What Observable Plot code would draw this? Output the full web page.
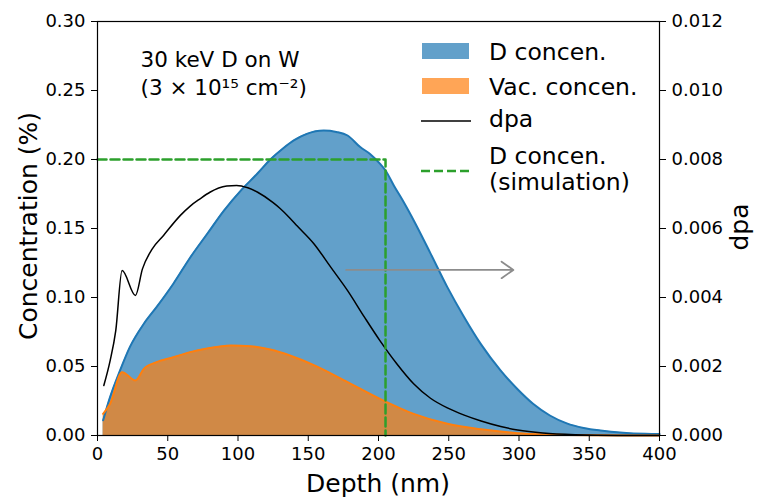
<!DOCTYPE html>
<html><head><meta charset="utf-8">
<script src="https://cdn.jsdelivr.net/npm/d3@7"></script>
<script src="https://cdn.jsdelivr.net/npm/@observablehq/plot@0.6"></script>
<style>body{margin:0;background:#fff} #chart{width:757px;height:498px}</style>
</head><body><div id="chart"></div>
<script>
// D concentration (%) vs depth (nm)
const dDepth = [4, 9, 16, 23, 33, 42, 54, 66, 78, 90, 102, 114, 123, 132, 140, 149, 161, 170, 178, 187, 194, 201, 205, 211, 218, 225, 237, 249, 261, 273, 287, 299, 310, 322, 334, 346, 358, 374, 390, 400];
const dConc  = [0.011, 0.028, 0.047, 0.064, 0.081, 0.093, 0.110, 0.129, 0.146, 0.163, 0.1775, 0.190, 0.200, 0.208, 0.214, 0.2186, 0.221, 0.220, 0.2174, 0.209, 0.204, 0.197, 0.192, 0.181, 0.169, 0.156, 0.132, 0.1075, 0.0857, 0.066, 0.047, 0.0335, 0.023, 0.0145, 0.0088, 0.0055, 0.0036, 0.002, 0.0012, 0.001];
// Vacancy concentration (%)
const vDepth = [4, 9, 17.5, 27, 33, 42, 54, 66, 78, 95, 109, 123, 137, 154, 178, 201, 225, 249, 273, 299, 322, 350, 400];
const vConc  = [0.0157, 0.023, 0.0459, 0.0399, 0.0483, 0.0531, 0.0567, 0.0604, 0.063, 0.0652, 0.0647, 0.0623, 0.058, 0.051, 0.0387, 0.0266, 0.0157, 0.0085, 0.0045, 0.0017, 0.0007, 0.0002, 0];
// dpa (right axis)
const dpaDepth = [4.5, 9, 13, 17.5, 27, 32, 39, 47, 59, 66, 73, 80, 92, 99, 107, 114, 125, 130, 137, 142, 154, 166, 178, 190, 201, 213, 225, 237, 249, 261, 273, 287, 299, 317, 340, 370, 400];
const dpaVal   = [0.00145, 0.00217, 0.00304, 0.00478, 0.00406, 0.00483, 0.00541, 0.0058, 0.00638, 0.00665, 0.00686, 0.00705, 0.00723, 0.00725, 0.00718, 0.00705, 0.00675, 0.00658, 0.0063, 0.00608, 0.00556, 0.00488, 0.0042, 0.00343, 0.00275, 0.00208, 0.0015, 0.00108, 0.0008, 0.00059, 0.00042, 0.00026, 0.00016, 0.00007, 0.00002, 0, 0];
// simulated D concentration (dashed box)
const simDepth = [0, 205, 205];
const simConc  = [0.20, 0.20, 0];
// arrow pointing to right axis
const arrowX = [177, 296];
const arrowY = 0.12;
// ticks
const xTicks = [0, 50, 100, 150, 200, 250, 300, 350, 400];
const yTicks = [0, 0.05, 0.10, 0.15, 0.20, 0.25, 0.30];
const dpaTicks = [0, 0.002, 0.004, 0.006, 0.008, 0.010, 0.012];
const annotation = "30 keV D on W\n(3 × 10¹⁵ cm⁻²)";
const legendLabels = ["D concen.", "Vac. concen.", "dpa", "D concen.\n(simulation)"];

const SCALE = 0.30 / 0.012;
const dRows = dDepth.map((x, i) => ({x, y: dConc[i]}));
const vRows = vDepth.map((x, i) => ({x, y: vConc[i]}));
const pRows = dpaDepth.map((x, i) => ({x, dpa: dpaVal[i]}));
const sRows = simDepth.map((x, i) => ({x, y: simConc[i]}));
const aRows = [{x1: arrowX[0], x2: arrowX[1], y: arrowY}];

const C_BLUE = "#1f77b4", C_ORANGE = "#ff7f0e", C_GREEN = "#2ca02c";
const W = 757, H = 498, mL = 97, mR = 98, mT = 21, mB = 63;

const plot = Plot.plot({
  width: W, height: H, marginLeft: mL, marginRight: mR, marginTop: mT, marginBottom: mB,
  style: {fontFamily: "DejaVu Sans", fontSize: "18px", color: "black", background: "white", overflow: "visible"},
  x: {domain: [0, 400]},
  y: {domain: [0, 0.30]},
  marks: [
    Plot.areaY(dRows, {x: "x", y: "y", fill: C_BLUE, fillOpacity: 0.7, curve: "monotone-x"}),
    Plot.areaY(vRows, {x: "x", y: "y", fill: C_ORANGE, fillOpacity: 0.7, curve: "monotone-x"}),
    Plot.lineY(dRows, {x: "x", y: "y", stroke: C_BLUE, strokeWidth: 2, curve: "monotone-x"}),
    Plot.lineY(vRows, {x: "x", y: "y", stroke: C_ORANGE, strokeWidth: 2, curve: "monotone-x"}),
    Plot.lineY(pRows, {x: "x", y: d => d.dpa * SCALE, stroke: "black", strokeWidth: 1.5, curve: "monotone-x"}),
    Plot.line(sRows, {x: "x", y: "y", stroke: C_GREEN, strokeWidth: 2.5, strokeDasharray: "9,4"}),
    Plot.arrow(aRows, {x1: "x1", x2: "x2", y1: "y", y2: "y", stroke: "#8c8c8c", strokeWidth: 1.8, headLength: 12, headAngle: 70}),
    Plot.frame({stroke: "black", strokeWidth: 1.2}),
    Plot.axisX({ticks: xTicks, tickSize: 6, tickPadding: 6, label: null, fontSize: 18, tickFormat: d => String(d)}),
    Plot.axisY({ticks: yTicks, tickSize: 6, tickPadding: 6, label: null, fontSize: 18, tickFormat: d => d.toFixed(2)}),
    Plot.axisY({anchor: "right", ticks: dpaTicks.map(v => v * SCALE), tickSize: 6, tickPadding: 6, label: null, fontSize: 18, tickFormat: v => (v / SCALE).toFixed(3)}),
    Plot.text([annotation], {frameAnchor: "top-left", dx: 43, dy: 26, textAnchor: "start", lineAnchor: "top", fontSize: 21.5, lineHeight: 1.3})
  ]
});
document.getElementById("chart").appendChild(plot);

const svg = d3.select(plot);
const g = svg.append("g").attr("font-family", "DejaVu Sans").attr("fill", "black");
// axis labels
g.append("text").attr("x", 378).attr("y", 492).attr("text-anchor", "middle").attr("font-size", 25).text("Depth (nm)");
g.append("text").attr("transform", "translate(37,226) rotate(-90)").attr("text-anchor", "middle").attr("font-size", 25).text("Concentration (%)");
g.append("text").attr("transform", "translate(748,227) rotate(-90)").attr("text-anchor", "middle").attr("font-size", 25).text("dpa");
// legend
const lg = g.append("g").attr("font-size", 23.5).attr("text-anchor", "start");
lg.append("rect").attr("x", 422).attr("y", 43).attr("width", 47).attr("height", 16).attr("fill", C_BLUE).attr("fill-opacity", 0.7);
lg.append("rect").attr("x", 422).attr("y", 78).attr("width", 47).attr("height", 16).attr("fill", C_ORANGE).attr("fill-opacity", 0.7);
lg.append("line").attr("x1", 421).attr("x2", 471).attr("y1", 121).attr("y2", 121).attr("stroke", "black").attr("stroke-width", 1.5);
lg.append("line").attr("x1", 421).attr("x2", 471).attr("y1", 171).attr("y2", 171).attr("stroke", C_GREEN).attr("stroke-width", 2.5).attr("stroke-dasharray", "9,4");
lg.append("text").attr("x", 489).attr("y", 60).text(legendLabels[0]);
lg.append("text").attr("x", 489).attr("y", 95).text(legendLabels[1]);
lg.append("text").attr("x", 489).attr("y", 127).text(legendLabels[2]);
const t4 = legendLabels[3].split("\n");
lg.append("text").attr("x", 489).attr("y", 164).text(t4[0]);
lg.append("text").attr("x", 489).attr("y", 190).text(t4[1]);
</script>
</body></html>
